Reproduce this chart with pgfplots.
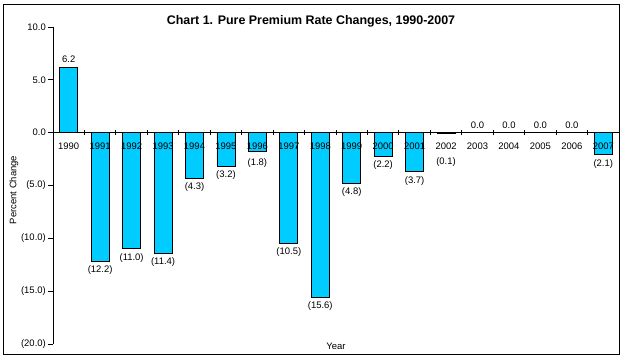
\documentclass[border=0pt]{standalone}
\usepackage{fontspec}
\setmainfont{Liberation Sans}
\usepackage{pgfplots}
\usepackage{pgfplotstable}
\pgfplotsset{compat=1.18}
\definecolor{barcyan}{RGB}{0,204,255}
\pgfplotstableread{
x y lab dy
1 -12.2 (12.2) 0
2 -11.0 (11.0) 0
3 -11.4 (11.4) 0
4 -4.3 (4.3) 0
5 -3.2 (3.2) 0
6 -1.8 (1.8) -3
7 -10.5 (10.5) 0
8 -15.6 (15.6) 0
9 -4.8 (4.8) 0
10 -2.2 (2.2) 0
11 -3.7 (3.7) 0
12 -0.1 (0.1) -20
17 -2.1 (2.1) 0
}\negtable
\pgfplotstableread{
x y lab
0 6.2 6.2
13 0.0 0.0
14 0.0 0.0
15 0.0 0.0
16 0.0 0.0
}\postable
\begin{document}
\begin{tikzpicture}
\useasboundingbox (-53bp,-15bp) rectangle (571bp,344bp);
\begin{axis}[
  at={(0,0)}, anchor=south west,
  scale only axis, width=566bp, height=317bp,
  xmin=-0.5, xmax=17.5, ymin=-20, ymax=10,
  axis x line=middle, axis y line=left,
  axis line style={-, black, line width=0.8bp},
  axis on top=true,
  font=\fontsize{9.5}{10}\selectfont,
  ytick={-20,-15,...,10},
  yticklabels={(20.0),(15.0),(10.0),(5.0),0.0,5.0,10.0},
  xtick={-0.5,0.5,...,17.5},
  xticklabels={},
  xtick align=center, ytick align=outside,
  major tick length=5bp,
  tick style={black, line width=0.8bp},
  y tick label style={inner sep=2bp},
  extra x ticks={0,1,...,17},
  extra x tick labels={1990,1991,1992,1993,1994,1995,1996,1997,1998,1999,2000,2001,2002,2003,2004,2005,2006,2007},
  extra x tick style={major tick length=0pt, tick label style={yshift=-7bp}},
]
\addplot[ybar, bar width=18bp, fill=barcyan, draw=black, line width=0.8bp,
  point meta=explicit symbolic,
  visualization depends on={\thisrow{dy} \as \dy},
  nodes near coords,
  every node near coord/.append style={font=\fontsize{9.5}{10}\selectfont, anchor=north, yshift=\dy bp, inner sep=4bp},
] table[x=x, y=y, meta=lab] {\negtable};
\addplot[ybar, bar width=18bp, fill=barcyan, draw=black, line width=0.8bp,
  point meta=explicit symbolic,
  nodes near coords,
  every node near coord/.append style={font=\fontsize{9.5}{10}\selectfont, anchor=south, inner sep=4bp},
] table[x=x, y=y, meta=lab] {\postable};
\end{axis}
\draw[line width=1bp] (-49bp,-10bp) rectangle (566bp,339bp);
\node[font=\bfseries\fontsize{12.5}{14}\selectfont] at (258bp,323bp) {Chart 1. Pure Premium Rate Changes, 1990-2007};
\node[rotate=90, font=\fontsize{9.5}{10}\selectfont] at (-39bp,154bp) {Percent Change};
\node[font=\fontsize{9.5}{10}\selectfont] at (283bp,-2bp) {Year};
\end{tikzpicture}
\end{document}
